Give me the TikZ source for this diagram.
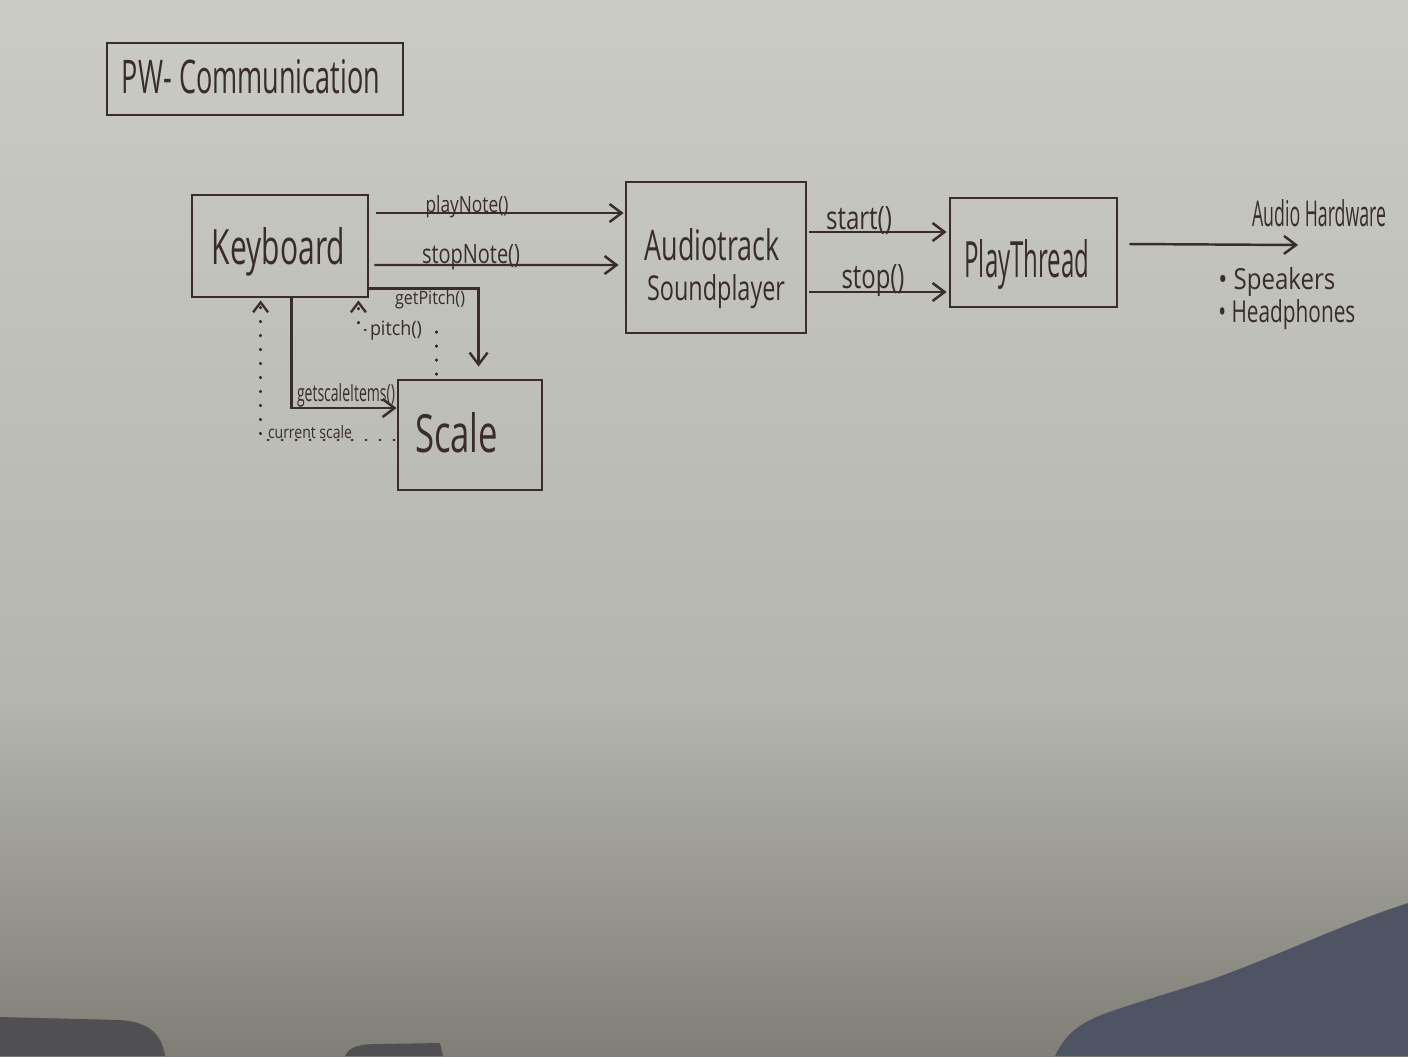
\documentclass[tikz,border=0pt]{standalone}
\usepackage{fontspec}
\setmainfont{Open Sans}
\usepackage{graphicx}
\usetikzlibrary{arrows.meta,calc}
\newlength\pu \setlength\pu{0.02cm}
\newcommand\inbox[3]{\makebox[0pt][c]{\hspace*{#1\pu}\raisebox{#2\pu}{#3}\hspace*{-#1\pu}}}
\definecolor{ink}{RGB}{58,44,44}
\definecolor{bgA}{RGB}{202,203,197}
\definecolor{bgB}{RGB}{180,181,175}
\definecolor{bgC}{RGB}{128,126,118}
\definecolor{shadowR}{RGB}{78,84,100}
\definecolor{shadowL}{RGB}{80,80,82}
\begin{document}
\begin{tikzpicture}[x=0.02cm,y=-0.02cm,
  box/.style={draw=ink, line width=1.6pt, rectangle, inner sep=0pt, text=ink, text height=0pt, text depth=0pt},
  lbl/.style={inner sep=0pt, anchor=base, text=ink},
  arr/.style={draw=ink, line width=1.4pt, -{Straight Barb[length=0.24cm,width=0.36cm]}},
  dotline/.style={draw=ink, line width=1.3pt, line cap=round, dash pattern=on 0.02cm off 0.26cm},
  dotarr/.style={dotline, -{Straight Barb[length=0.2cm,width=0.3cm]}}]
% paper
\shade[top color=bgA, bottom color=bgB] (0,0) rectangle (1408,700);
\shade[top color=bgB, bottom color=bgC] (0,700) rectangle (1408,1056);
\fill[shadowR] (1055,1056) .. controls (1070,1025) and (1090,1018) .. (1130,1005) -- (1210,980) .. controls (1280,955) and (1340,925) .. (1408,903) -- (1408,1056) -- cycle;
\fill[shadowL] (0,1017) -- (120,1020) .. controls (150,1022) and (162,1035) .. (165,1056) -- (0,1056) -- cycle;
\fill[shadowL] (345,1056) .. controls (350,1046) and (360,1044) .. (380,1044) -- (440,1043) -- (443,1056) -- cycle;
\useasboundingbox (0,0) rectangle (1408,1056);

% boxes
\node[box, minimum width=296\pu, minimum height=72\pu] (title) at (255,79) {\inbox{-4}{-14}{\resizebox{258\pu}{34\pu}{PW- Communication}}};
\node[box, minimum width=176\pu, minimum height=102\pu] (kb) at (280,246) {\inbox{-1.5}{-18}{\resizebox{133\pu}{37\pu}{Keyboard}}};
\node[box, minimum width=180\pu, minimum height=151\pu] (at) at (716,257.5) {\inbox{-4}{-2.5}{\resizebox{135\pu}{32\pu}{Audiotrack}}\inbox{0}{-42.5}{\resizebox{138\pu}{26\pu}{Soundplayer}}};
\node[box, minimum width=167\pu, minimum height=109\pu] (pt) at (1033.5,252.5) {\inbox{-6.5}{-24.5}{\resizebox{125\pu}{38\pu}{PlayThread}}};
\node[box, minimum width=144\pu, minimum height=110\pu] (sc) at (470,435) {\inbox{-13.5}{-17}{\resizebox{83\pu}{40\pu}{Scale}}};

% labels
\node[lbl] (lplay) at (467,212) {\resizebox{83\pu}{17\pu}{playNote()}};
\node[lbl] (lstopn) at (471,263) {\resizebox{98\pu}{19\pu}{stopNote()}};
\node[lbl] (lstart) at (859,229) {\resizebox{66\pu}{23\pu}{start()}};
\node[lbl] (lstop) at (873,288) {\resizebox{63\pu}{24\pu}{stop()}};
\node[lbl] (lgp) at (430,304) {\resizebox{70\pu}{14\pu}{getPitch()}};
\node[lbl] (lpitch) at (396,335) {\resizebox{52\pu}{15\pu}{pitch()}};
\node[lbl] (lgsi) at (346,401) {\resizebox{98\pu}{18\pu}{getscaleItems()}};
\node[lbl] (lcs) at (310,438) {\resizebox{84\pu}{13\pu}{current scale}};
\node[lbl] (lah) at (1319,226) {\resizebox{134\pu}{27\pu}{Audio Hardware}};
\node[lbl, anchor=base west] (lsp) at (1218,289) {\resizebox{117\pu}{22\pu}{• Speakers}};
\node[lbl, anchor=base west] (lhp) at (1218,322) {\resizebox{137\pu}{23\pu}{• Headphones}};

% connectors
\draw[arr] ($(kb.east)+(7,-33)$) -- ($(at.west)+(-1,-44.5)$);
\draw[arr] ($(kb.east)+(5,19)$) -- ($(at.west)+(-6,7.5)$);
\draw[arr] ($(at.east)+(2,-25.5)$) -- ($(pt.west)+(-2,-20.5)$);
\draw[arr] ($(at.east)+(2,34.5)$) -- ($(pt.west)+(-2,39.5)$);
\coordinate (hw) at (1298,245);
\draw[arr] ($(pt.east)+(11,-8.5)$) -- (hw);
\draw[arr] ($(kb.south east)+(0,-10)$) -| ($(sc.north west)+(82,-12)$);
\draw[dotline] ($(sc.north west)+(40,-4)$) |- ($(lpitch.east)+(4,0)$);
\draw[dotarr] ($(lpitch.west)+(-4,0)$) -| ($(kb.south east)+(-11,2)$);
\draw[arr] ($(kb.south west)+(101,0)$) |- ($(sc.west)+(0,-27)$);
\draw[dotarr] ($(sc.west)+(-2,5)$) -| ($(kb.south west)+(70,2)$);
\end{tikzpicture}
\end{document}
